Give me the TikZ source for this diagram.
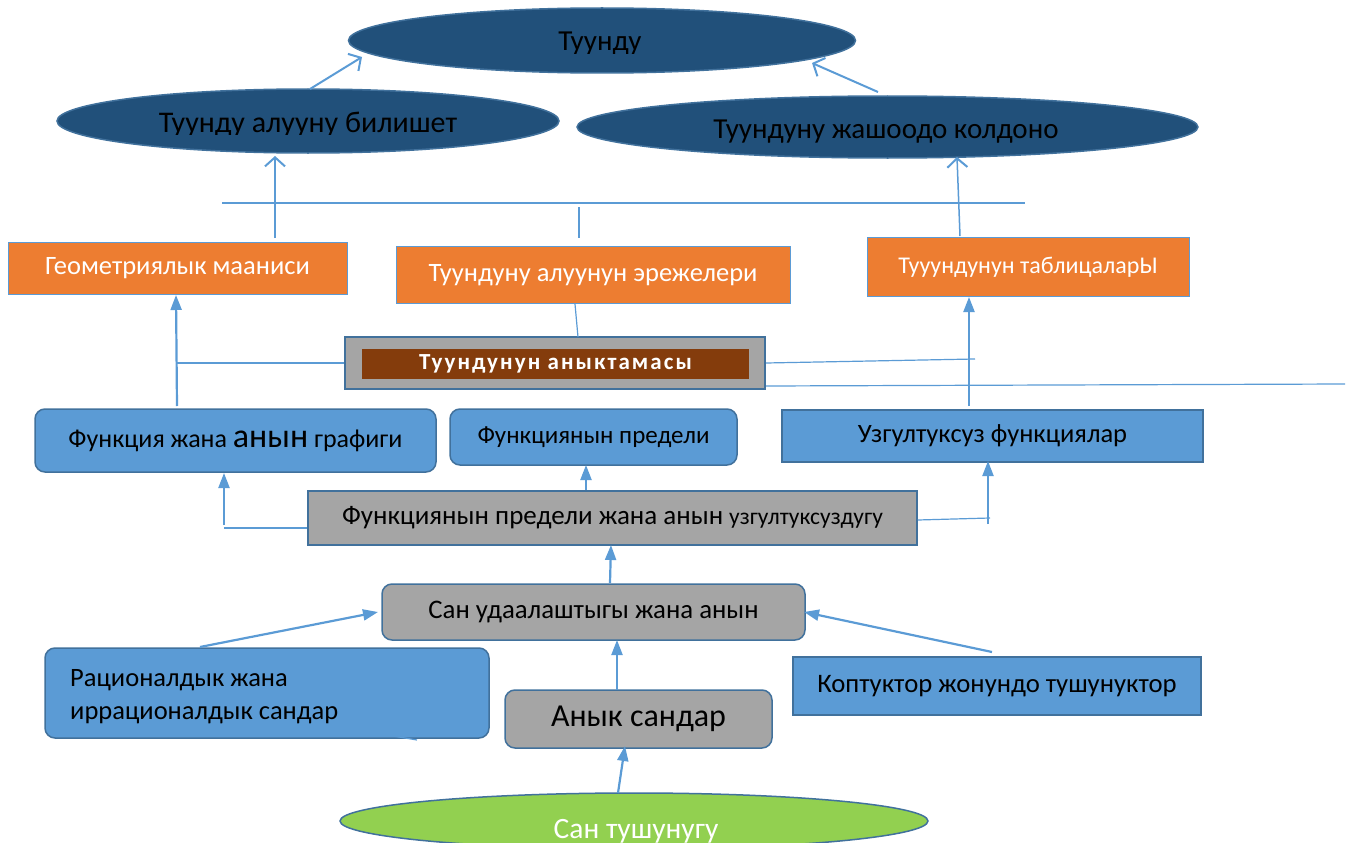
\documentclass[tikz,border=0pt]{standalone}
\usepackage{fontspec}
\setmainfont{Carlito}
\usetikzlibrary{arrows.meta,shapes.geometric,calc}
\definecolor{dkblue}{RGB}{33,80,122}
\definecolor{edgeblue}{RGB}{65,113,156}
\definecolor{lblue}{RGB}{91,155,213}
\definecolor{orng}{RGB}{237,125,49}
\definecolor{gry}{RGB}{165,165,165}
\definecolor{brwn}{RGB}{132,60,12}
\definecolor{grn}{RGB}{146,208,80}
\newcommand\fsz[2]{\fontsize{#1}{#2}\selectfont}
\begin{document}
\begin{tikzpicture}[x=1pt,y=-1pt,
  ell/.style={ellipse, draw=edgeblue, line width=1.5pt, fill=dkblue, inner sep=0pt},
  obox/.style={rectangle, draw=lblue, line width=1pt, fill=orng, text=white, inner sep=0pt},
  bbox/.style={rectangle, draw=edgeblue, line width=1.5pt, fill=lblue, inner sep=0pt},
  gbox/.style={rectangle, draw=edgeblue, line width=1.5pt, fill=gry, inner sep=0pt},
  rnd/.style={rounded corners=10pt},
  tline/.style={draw=lblue, line width=1.2pt},
  openarr/.style={draw=lblue, line width=2pt, -{Straight Barb[length=9pt,width=20pt,line width=2pt]}},
  fillarr/.style={draw=lblue, line width=2.2pt, -{Triangle[length=15pt,width=11pt]}},
  lbl/.style={inner sep=0pt},
]
\useasboundingbox (0,0) rectangle (1353,843);
\clip (0,0) rectangle (1353,843);

% ---------- top ellipses ----------
\node[ell, minimum width=507pt, minimum height=65pt] (e1) at (602,40.5) {};
\begin{scope}\clip (350,0) rectangle (856,54);
\node[lbl, font=\fsz{29}{34}] (t1) at (600,44) {Туунду};
\end{scope}
\node[ell, minimum width=502pt, minimum height=64pt] (e2) at (308,121) {};
\begin{scope}\clip (57,90) rectangle (559,134);
\node[lbl, font=\fsz{30}{34}] (t2) at (308,125) {Туунду алууну билишет};
\end{scope}
\node[ell, minimum width=621pt, minimum height=62pt] (e3) at (887.5,127) {};
\begin{scope}\clip (577,96) rectangle (1198,142);
\node[lbl, font=\fsz{29}{34}] (t3) at (886,132) {Туундуну жашоодо колдоно};
\end{scope}

% ---------- orange row ----------
\node[obox, minimum width=339pt, minimum height=52pt, font=\fsz{26.5}{30}] (o1) at (177.5,268) {Геометриялык мааниси};
\node[obox, minimum width=394pt, minimum height=57pt, font=\fsz{26.5}{30}] (o2) at (593,275) {Туундуну алуунун эрежелери};
\node[obox, minimum width=322pt, minimum height=59pt, font=\fsz{24}{28}] (o3) at (1028,267) {Тууундунун таблицаларЫ};

% ---------- definition box ----------
\node[gbox, draw=edgeblue, line width=2.5pt, minimum width=420pt, minimum height=52pt] (g1) at (555,363) {};
\node[fill=brwn, minimum width=387pt, minimum height=30pt, inner sep=0pt, text=white,
      font=\fsz{23}{26}\bfseries\addfontfeature{LetterSpace=9}] (g1t) at (555.5,364) {Туундунун аныктамасы};

% ---------- blue row ----------
\node[bbox, rnd, minimum width=401pt, minimum height=63pt, font=\fsz{26}{30}] (b1) at (235.5,440.5)
  {Функция жана {\fsz{34}{38}анын} графиги};
\node[bbox, rnd, minimum width=287pt, minimum height=56pt, font=\fsz{25}{29}] (b2) at (593.5,437) {Функциянын предели};
\node[bbox, minimum width=421pt, minimum height=52pt, font=\fsz{26.5}{30}] (b3) at (992.5,436) {Узгултуксуз функциялар};

% ---------- middle gray ----------
\node[gbox, minimum width=609pt, minimum height=54pt, font=\fsz{27}{30}] (g2) at (612.5,518)
  {Функциянын предели жана анын {\fsz{23.5}{27}узгултуксуздугу}};
\node[gbox, rnd, minimum width=423pt, minimum height=56pt, font=\fsz{26.8}{30}] (g3) at (593.5,612) {Сан удаалаштыгы жана анын};

% ---------- bottom ----------
\node[bbox, rnd, minimum width=444pt, minimum height=90pt] (b4) at (267,693) {};
\node[lbl, align=left, font=\fsz{26.5}{33}, anchor=west] (b4t) at (70,697) {Рационалдык жана\\иррационалдык сандар};
\node[bbox, minimum width=408pt, minimum height=58pt, font=\fsz{26.7}{30}] (b5) at (997,686) {Коптуктор жонундо тушунуктор};
\node[gbox, rnd, minimum width=267pt, minimum height=58pt, font=\fsz{32}{36}] (g4) at (638.5,719) {Анык сандар};
\node[ellipse, draw=edgeblue, line width=1.5pt, fill=grn, minimum width=588pt, minimum height=56pt, inner sep=0pt] (e4) at (634,821) {};
\node[lbl, text=white, font=\fsz{29.5}{34}] (t4) at (636,831) {Сан тушунугу};

% ---------- connector points ----------
\coordinate (p1a) at (310,89);   \coordinate (p1b) at (362,57);
\coordinate (p2a) at (878,92);   \coordinate (p2b) at (812,63);
\coordinate (p3a) at (275,238);  \coordinate (p3b) at (275,156);
\coordinate (h1a) at (222,203);  \coordinate (h1b) at (1025,203);
\coordinate (v1a) at (579,207);  \coordinate (v1b) at (579,238);
\coordinate (p4a) at (960,236);  \coordinate (p4b) at (957,157);
\coordinate (v2a) at (575,304);  \coordinate (v2b) at (578,337);
\coordinate (h2a) at (177,363);
\coordinate (h3a) at (766,363);  \coordinate (h3b) at (975,359);
\coordinate (h4a) at (766,386);  \coordinate (h4b) at (1345,384);
\coordinate (p5a) at (177,406);  \coordinate (p5b) at (176,295);
\coordinate (p6a) at (969,406);  \coordinate (p6b) at (969,297);
\coordinate (p7a) at (224,525);  \coordinate (p7b) at (224,473);
\coordinate (h5a) at (224,528);
\coordinate (p8a) at (586,490);  \coordinate (p8b) at (586,465);
\coordinate (h6b) at (990,518);
\coordinate (p9a) at (988,524);  \coordinate (p9b) at (988,461);
\coordinate (p10a) at (610,583); \coordinate (p10b) at (611,545);
\coordinate (p11a) at (200,647); \coordinate (p11b) at (378,612);
\coordinate (p12a) at (992,652); \coordinate (p12b) at (804,612);
\coordinate (p13a) at (617,690); \coordinate (p13b) at (617,640);
\coordinate (p14a) at (618,793); \coordinate (p14b) at (625,746);
\coordinate (s1a) at (393,736);  \coordinate (s1b) at (417,740);

% ---------- connectors ----------
\draw[openarr] (p1a) -- (p1b);
\draw[openarr] (p2a) -- (p2b);
\draw[tline] (h1a) -- (h1b);
\draw[openarr, line width=1.5pt] (p3a) -- (p3b);
\draw[tline] (v1a) -- (v1b);
\draw[openarr, line width=1.5pt] (p4a) -- (p4b);
\draw[tline] (v2a) -- (v2b);
\draw[tline] (h2a) -- (g1.west);
\draw[tline] (h3a) -- (h3b);
\draw[tline] (h4a) -- (h4b);
\draw[fillarr] (p5a) -- (p5b);
\draw[fillarr] (p6a) -- (p6b);
\draw[fillarr] (p7a) -- (p7b);
\draw[tline] (h5a) -- (g2.west |- h5a);
\draw[fillarr] (p8a) -- (p8b);
\draw[tline] (g2.east |- 0,520) -- (h6b);
\draw[fillarr] (p9a) -- (p9b);
\draw[fillarr] (p10a) -- (p10b);
\draw[fillarr] (p11a) -- (p11b);
\draw[fillarr] (p12a) -- (p12b);
\draw[fillarr] (p13a) -- (p13b);
\draw[fillarr] (p14a) -- (p14b);
\draw[tline] (s1a) -- (s1b);
\end{tikzpicture}
\end{document}
